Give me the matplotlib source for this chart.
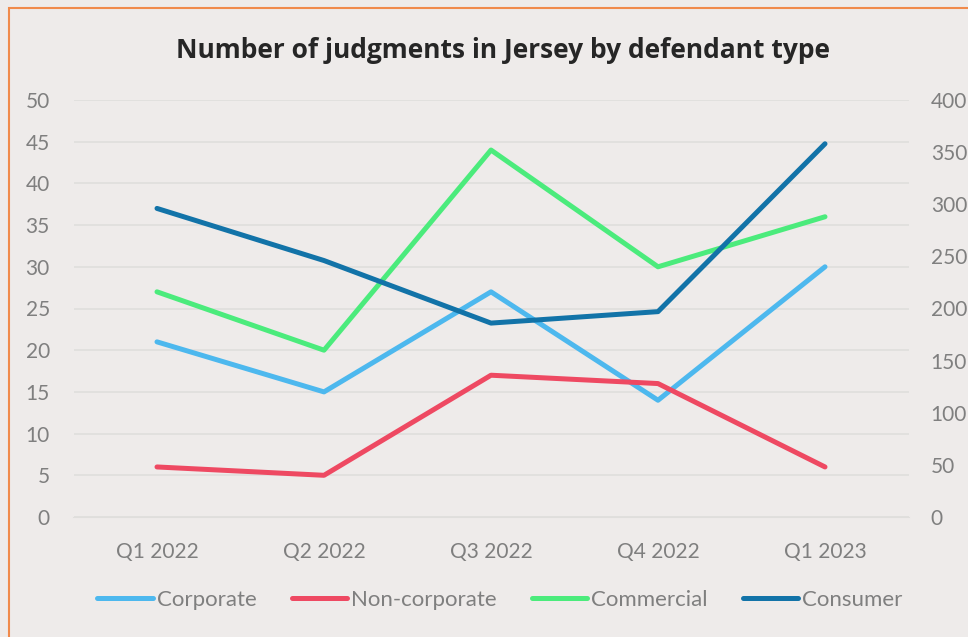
import matplotlib
matplotlib.use("Agg")
from matplotlib import pyplot as plt
from matplotlib.patches import Rectangle

quarters = ['Q1 2022', 'Q2 2022', 'Q3 2022', 'Q4 2022', 'Q1 2023']
corporate = [21, 15, 27, 14, 30]
non_corporate = [6, 5, 17, 16, 6]
commercial = [27, 20, 44, 30, 36]
consumer = [296, 246, 186, 197, 358]   # right axis

bg = '#EEEBEA'
tick_col = '#7F7F7F'
fam = ['Lato', 'DejaVu Sans']

fig = plt.figure(figsize=(9.68, 6.37), dpi=100, facecolor=bg)
W, H = 968, 637
ax = fig.add_axes([73.5 / W, (H - 517) / H, 835 / W, 417 / H])
ax.set_facecolor(bg)
ax2 = ax.twinx()

x = range(len(quarters))
lw = 3.6
ax.plot(x, corporate, color='#4DB8EE', lw=lw, solid_capstyle='round', label='Corporate')
ax.plot(x, non_corporate, color='#EE4962', lw=lw, solid_capstyle='round', label='Non-corporate')
ax.plot(x, commercial, color='#4BEB7C', lw=lw, solid_capstyle='round', label='Commercial')
ax2.plot(x, consumer, color='#1273A8', lw=lw, solid_capstyle='round', label='Consumer')

ax.set_xlim(-0.5, 4.5)
ax.set_ylim(0, 50)
ax2.set_ylim(0, 400)
ax.set_yticks(range(0, 51, 5))
ax2.set_yticks(range(0, 401, 50))
ax.set_xticks(list(x))
ax.set_xticklabels(quarters)
ax.grid(axis='y', color='#DFDEDC', lw=1.2)
ax.set_axisbelow(True)

for a in (ax, ax2):
    for s in a.spines.values():
        s.set_visible(False)
    a.tick_params(length=0, labelsize=15, labelcolor=tick_col)
    for lab in a.get_xticklabels() + a.get_yticklabels():
        lab.set_family(fam)
ax.tick_params(axis='y', pad=17)
ax2.tick_params(axis='y', pad=16)
ax.tick_params(axis='x', pad=18)
ax.spines['bottom'].set_visible(True)
ax.spines['bottom'].set_color('#DFDEDC')

fig.text(503 / W, 1 - 50 / H, 'Number of judgments in Jersey by defendant type',
         ha='center', va='center', fontsize=19, fontweight='bold',
         family=['Open Sans', 'DejaVu Sans'], color='#262626')

h1, l1 = ax.get_legend_handles_labels()
h2, l2 = ax2.get_legend_handles_labels()
leg = fig.legend(h1 + h2, l1 + l2, ncol=4, loc='center', bbox_to_anchor=(500 / W, 1 - 600 / H),
                 frameon=False, handlelength=2.5, handletextpad=0.18, columnspacing=1.57,
                 prop={'family': fam, 'size': 16})
for t in leg.get_texts():
    t.set_color(tick_col)

fig.patches.append(Rectangle((9 / W, -0.1), 1.2, 1 - 8 / H + 0.1, transform=fig.transFigure,
                             fill=False, edgecolor='#F08A4B', lw=1.5))

fig.savefig('out.png', dpi=100, facecolor=bg)
